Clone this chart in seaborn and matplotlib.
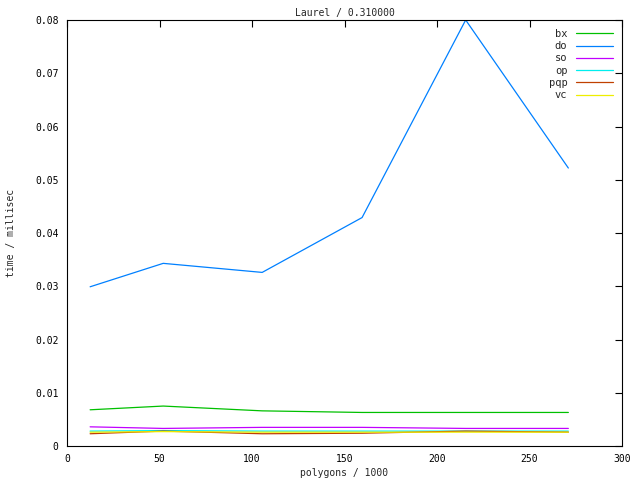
import matplotlib
matplotlib.use('Agg')
import matplotlib.pyplot as plt
import matplotlib.ticker as mticker
import seaborn as sns
import pandas as pd

# polygons / 1000
polygons = [12.5, 52, 105.5, 159.5, 215.5, 271]

bx = [0.0068, 0.0075, 0.0066, 0.0063, 0.0063, 0.0063]
do = [0.0299, 0.0343, 0.0326, 0.0429, 0.0800, 0.0522]
so = [0.0036, 0.0033, 0.0035, 0.0035, 0.0033, 0.0033]
op = [0.0028, 0.0029, 0.0028, 0.0028, 0.0028, 0.0028]
pqp = [0.0023, 0.0028, 0.0023, 0.0024, 0.0028, 0.0026]
vc = [0.0026, 0.0027, 0.0026, 0.0026, 0.0026, 0.0026]

series_names = ['bx', 'do', 'so', 'op', 'pqp', 'vc']
series_colors = ['#00c000', '#0080ff', '#c000ff', '#00eeee', '#c04000', '#eeee00']

rows = []
for name, vals in zip(series_names, [bx, do, so, op, pqp, vc]):
    for x, y in zip(polygons, vals):
        rows.append({'polygons': x, 'time': y, 'impl': name})
df = pd.DataFrame(rows)

sns.set_theme(style='white')
plt.rcParams['font.family'] = ['DejaVu Sans Mono']
plt.rcParams['font.size'] = 7

fig = plt.figure(figsize=(6.4, 4.8), dpi=100)
ax = fig.add_axes([67 / 640, 1 - 446 / 480, 555 / 640, 426 / 480])

sns.lineplot(data=df, x='polygons', y='time', hue='impl', hue_order=series_names,
             palette=dict(zip(series_names, series_colors)), linewidth=0.9, ax=ax)

ax.set_xlim(0, 300)
ax.set_ylim(0, 0.08)
ax.xaxis.set_major_locator(mticker.MultipleLocator(50))
ax.yaxis.set_major_locator(mticker.MultipleLocator(0.01))
ax.yaxis.set_major_formatter(mticker.FuncFormatter(lambda v, p: '%g' % round(v, 4)))
ax.tick_params(direction='in', top=True, right=True, length=5, width=0.8, colors='black',
               labelsize=7, pad=6)
for sp in ax.spines.values():
    sp.set_color('black')
    sp.set_linewidth(0.8)

ax.set_xlabel('polygons / 1000', fontsize=7, labelpad=3)
ax.set_ylabel('time / millisec', fontsize=7, labelpad=14)
ax.set_title('Laurel / 0.310000', fontsize=7, pad=3)

handles, labels = ax.get_legend_handles_labels()
ax.legend(handles, labels, loc='upper right', frameon=False, markerfirst=False,
          fontsize=7.5, handlelength=3.6, handletextpad=0.8, labelspacing=0.22,
          borderaxespad=0.45)

fig.savefig('out.png', dpi=100)
